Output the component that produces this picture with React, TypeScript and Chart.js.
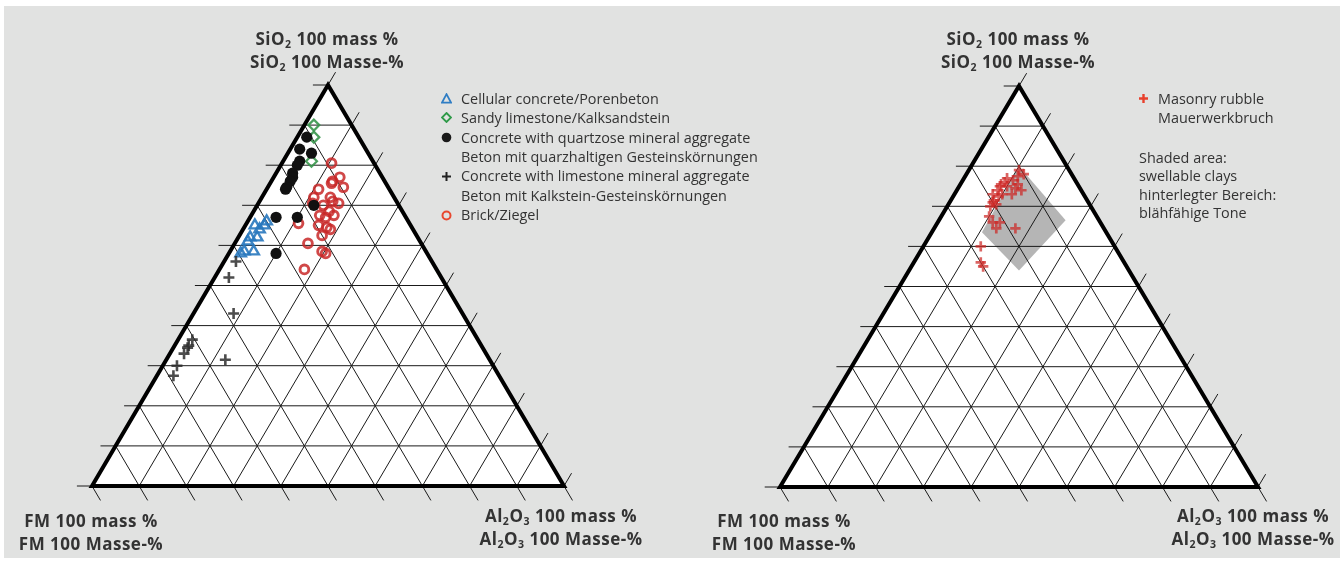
import React, { useEffect, useRef } from "react";
import { Chart, registerables } from "chart.js";

Chart.register(...registerables);

// Compositions in mass %: [SiO2, Al2O3, FM]
type Comp = [number, number, number];

const gridSteps = [0, 10, 20, 30, 40, 50, 60, 70, 80, 90, 100];

const cellularConcrete: Comp[] = [
  [66, 4, 30], [65, 4, 31], [65, 2, 33], [64, 3.5, 32.5], [62, 2.5, 35.5],
  [62, 4, 34], [61, 2.5, 36.5], [58.5, 3, 38.5], [58.5, 5, 36.5], [58, 2.5, 39.5],
];

const sandyLimestone: Comp[] = [
  [90, 2, 8], [87, 3.5, 9.5], [81, 6, 13],
];

const quartzConcrete: Comp[] = [
  [87, 2, 11], [84, 2, 14], [83, 5, 12], [81, 3.5, 15.5], [80, 3.5, 16.5],
  [78, 3.5, 18.5], [77, 4, 19], [76, 4, 20], [74.5, 4, 21.5], [74, 4, 22],
  [67, 5.5, 27.5], [67, 10, 23], [70, 12, 18], [58, 10, 32],
];

const limestoneConcrete: Comp[] = [
  [56, 2.5, 41.5], [52, 3, 45], [43, 8.5, 48.5], [36.5, 3, 60.5], [35, 3, 62],
  [34.5, 3, 62.5], [33, 3, 64], [30, 3, 67], [27.5, 3.5, 69], [31.5, 12.5, 56],
];

const brick: Comp[] = [
  [80.5, 10.5, 9], [76, 13, 11], [77, 14, 9], [74.5, 16, 9.5], [75.5, 13, 11.5],
  [74, 11, 15], [72, 11, 17], [72, 14.5, 13.5], [71, 15.5, 13.5], [70.5, 17, 12.5],
  [70, 14, 16], [70.5, 11.5, 18], [68.5, 16, 15.5], [67.5, 14.5, 18], [67, 16, 17],
  [67.5, 17.5, 15], [65.5, 11, 23.5], [65, 15.5, 19.5], [64.5, 17.5, 18], [64, 18.5, 17.5],
  [62.5, 17.5, 20], [60.5, 15.5, 24], [58.5, 19.5, 22], [58, 20.5, 21.5], [54, 18, 28],
];

const masonryRubble: Comp[] = [
  [79, 10.5, 10.5], [78, 12, 10], [77.5, 11, 11.5], [76.5, 10.5, 13], [77, 9, 14],
  [76, 9, 15], [75.5, 8.5, 16], [75, 8.5, 16.5], [74, 8.5, 17.5], [73, 8, 19],
  [72.5, 9.5, 18], [71.5, 9, 19.5], [71, 9, 20], [70, 9, 21], [70.5, 10, 19.5],
  [75.5, 12, 12.5], [74, 13.5, 12.5], [73, 12, 15], [74.5, 12, 13.5], [73, 10, 17],
  [75, 10, 15], [67.5, 10, 22.5], [66, 11.5, 22.5], [64.5, 13, 22.5], [66, 13, 21],
  [64.5, 17, 18.5], [60, 12, 28], [56, 14, 30], [55, 15, 30],
];

// Outline of the swellable-clay field
const swellableClays: Comp[] = [
  [80, 10, 10], [66.5, 26.5, 7], [54, 23, 23], [63.5, 10.5, 26],
];

// Tick length beyond the triangle, in mass %
const TICK_SIDE = 3.2;
const TICK_BASE = 3.6;

const toXY = ([si, al]: Comp) => ({ x: al + si / 2, y: si });

const segment = (pts: Comp[], color: string, width: number) => ({
  type: "line" as const,
  data: pts.map(toXY),
  borderColor: color,
  borderWidth: width,
  pointRadius: 0,
  fill: false,
  clip: false as const,
  borderCapStyle: "butt" as const,
  borderJoinStyle: "miter" as const,
});

function frameDatasets(shaded?: Comp[]) {
  const sets: any[] = [];
  // white triangle face
  sets.push({
    type: "line",
    data: ([[0, 0, 100], [0, 100, 0], [100, 0, 0], [0, 0, 100]] as Comp[]).map(toXY),
    borderWidth: 0,
    borderColor: "rgba(0,0,0,0)",
    backgroundColor: "#ffffff",
    fill: "shape",
    pointRadius: 0,
    clip: false,
  });
  if (shaded) {
    sets.push({
      type: "line",
      data: [...shaded, shaded[0]].map(toXY),
      borderWidth: 0,
      borderColor: "rgba(0,0,0,0)",
      backgroundColor: "#b5b5b5",
      fill: "shape",
      pointRadius: 0,
      clip: false,
    });
  }
  for (const v of gridSteps) {
    // SiO2 = v, tick past the FM–SiO2 side
    sets.push(segment([[v, -TICK_SIDE, 100 - v + TICK_SIDE], [v, 100 - v, 0]], "#1a1a1a", 1));
    // Al2O3 = v, tick past the SiO2–Al2O3 side
    sets.push(segment([[100 - v + TICK_SIDE, v, -TICK_SIDE], [0, v, 100 - v]], "#1a1a1a", 1));
    // FM = v, tick below the base
    sets.push(segment([[100 - v, 0, v], [-TICK_BASE, 100 - v + TICK_BASE, v]], "#1a1a1a", 1));
  }
  sets.push(segment([[0, 0, 100], [0, 100, 0], [100, 0, 0], [0, 0, 100], [0, 100, 0]], "#000000", 4));
  return sets;
}

const series = (pts: Comp[], style: any) => ({
  type: "scatter" as const,
  data: pts.map(toXY),
  clip: false as const,
  ...style,
});

const leftDatasets = () => {
  const bottomToTop = [
    ...frameDatasets(),
    series(sandyLimestone, { pointStyle: "rectRot", pointRadius: 5.5, pointBorderWidth: 2.2, borderColor: "rgba(55,150,75,0.9)", backgroundColor: "rgba(255,255,255,0)" }),
    series(cellularConcrete, { pointStyle: "triangle", pointRadius: 6, pointBorderWidth: 2.4, borderColor: "rgba(40,120,190,0.9)", backgroundColor: "rgba(255,255,255,0)" }),
    series(brick, { pointStyle: "circle", pointRadius: 4.4, pointBorderWidth: 2.9, borderColor: "rgba(200,40,40,0.85)", backgroundColor: "rgba(255,255,255,0)" }),
    series(limestoneConcrete, { pointStyle: "cross", pointRadius: 5.5, pointBorderWidth: 2.6, borderColor: "rgba(45,45,45,0.85)" }),
    series(quartzConcrete, { pointStyle: "circle", pointRadius: 5.6, pointBorderWidth: 0, borderColor: "#111", backgroundColor: "#111" }),
  ];
  return bottomToTop.reverse();
};

const rightDatasets = () => {
  const bottomToTop = [
    ...frameDatasets(swellableClays),
    series(masonryRubble, { pointStyle: "cross", pointRadius: 5.2, pointBorderWidth: 2.7, borderColor: "rgba(205,40,38,0.72)" }),
  ];
  return bottomToTop.reverse();
};

function TernaryChart({ left, padding, build }: { left: number; padding: any; build: () => any[] }) {
  const ref = useRef<HTMLCanvasElement>(null);
  useEffect(() => {
    const chart = new Chart(ref.current as HTMLCanvasElement, {
      type: "scatter",
      data: { datasets: build() },
      options: {
        responsive: false,
        animation: false,
        events: [],
        layout: { padding },
        scales: {
          x: { type: "linear", min: 0, max: 100, display: false },
          y: { type: "linear", min: 0, max: 100, display: false },
        },
        plugins: { legend: { display: false }, tooltip: { enabled: false } },
      },
    } as any);
    return () => chart.destroy();
  }, []);
  return (
    <canvas
      ref={ref}
      width={672}
      height={562}
      style={{ position: "absolute", left, top: 0, width: 672, height: 562 }}
    />
  );
}

const subStyle: React.CSSProperties = { fontSize: "0.62em", position: "relative", top: "0.32em", lineHeight: 0 };

const SiO2 = () => (<>SiO<span style={subStyle}>2</span></>);
const Al2O3 = () => (<>Al<span style={subStyle}>2</span>O<span style={subStyle}>3</span></>);

function AxisLabel({ cx, top, children }: { cx: number; top: number; children: React.ReactNode }) {
  return (
    <div
      style={{
        position: "absolute",
        left: cx,
        top,
        transform: "translateX(-50%)",
        whiteSpace: "nowrap",
        textAlign: "center",
        fontFamily: '"Open Sans", sans-serif',
        fontWeight: 700,
        fontSize: 17,
        letterSpacing: "0.5px",
        lineHeight: "23px",
        color: "#333",
      }}
    >
      {children}
    </div>
  );
}

function Marker({ kind }: { kind: string }) {
  const common = { fill: "none", strokeWidth: 1.8 };
  let shape: React.ReactNode = null;
  if (kind === "triangle") shape = <polygon points="5.5,1.2 10,9.6 1,9.6" stroke="#2f7dc4" {...common} />;
  if (kind === "diamond") shape = <polygon points="5.5,1 10,5.5 5.5,10 1,5.5" stroke="#2e9a48" {...common} />;
  if (kind === "dot") shape = <circle cx="5.5" cy="5.5" r="4.8" fill="#1a1a1a" />;
  if (kind === "plus") shape = <path d="M5.5 1 V10 M1 5.5 H10" stroke="#222" strokeWidth={2} />;
  if (kind === "ring") shape = <circle cx="5.5" cy="5.5" r="4" stroke="#e8482f" {...common} strokeWidth={2} />;
  if (kind === "redplus") shape = <path d="M5.5 1 V10 M1 5.5 H10" stroke="#e8402c" strokeWidth={2.4} />;
  return (
    <svg width={11} height={11} style={{ position: "absolute", left: 0, top: 4.2 }}>
      {shape}
    </svg>
  );
}

const leftLegend = [
  { marker: "triangle", lines: ["Cellular concrete/Porenbeton"] },
  { marker: "diamond", lines: ["Sandy limestone/Kalksandstein"] },
  { marker: "dot", lines: ["Concrete with quartzose mineral aggregate", "Beton mit quarzhaltigen Gesteinskörnungen"] },
  { marker: "plus", lines: ["Concrete with limestone mineral aggregate", "Beton mit Kalkstein-Gesteinskörnungen"] },
  { marker: "ring", lines: ["Brick/Ziegel"] },
];

const rightLegend = ["Masonry rubble", "Mauerwerkbruch"];
const shadedNote = ["Shaded area:", "swellable clays", "hinterlegter Bereich:", "blähfähige Tone"];

const legendFont: React.CSSProperties = {
  fontFamily: '"Open Sans", sans-serif',
  fontSize: 14.4,
  color: "#333",
  whiteSpace: "nowrap",
};

export default function App() {
  return (
    <div style={{ position: "absolute", left: 0, top: 0, width: 1344, height: 562, background: "#ffffff", overflow: "hidden" }}>
      <div style={{ position: "absolute", left: 4, top: 6, width: 1336, height: 552, background: "#e1e2e1" }} />
      <TernaryChart left={0} padding={{ left: 92, right: 108, top: 85, bottom: 76 }} build={leftDatasets} />
      <TernaryChart left={672} padding={{ left: 108, right: 86, top: 86, bottom: 75 }} build={rightDatasets} />

      <AxisLabel cx={327} top={26.5}>
        <div><SiO2 /> 100 mass %</div>
        <div><SiO2 /> 100 Masse-%</div>
      </AxisLabel>
      <AxisLabel cx={91} top={508.5}>
        <div>FM 100 mass %</div>
        <div>FM 100 Masse-%</div>
      </AxisLabel>
      <AxisLabel cx={561} top={503.5}>
        <div><Al2O3 /> 100 mass %</div>
        <div><Al2O3 /> 100 Masse-%</div>
      </AxisLabel>

      <AxisLabel cx={1018} top={27}>
        <div><SiO2 /> 100 mass %</div>
        <div><SiO2 /> 100 Masse-%</div>
      </AxisLabel>
      <AxisLabel cx={784} top={509}>
        <div>FM 100 mass %</div>
        <div>FM 100 Masse-%</div>
      </AxisLabel>
      <AxisLabel cx={1253} top={503.5}>
        <div><Al2O3 /> 100 mass %</div>
        <div><Al2O3 /> 100 Masse-%</div>
      </AxisLabel>

      <div style={{ position: "absolute", left: 441, top: 88.6, lineHeight: "19.45px", ...legendFont }}>
        {leftLegend.map((item) => (
          <div key={item.marker} style={{ position: "relative", paddingLeft: 20 }}>
            <Marker kind={item.marker} />
            {item.lines.map((t) => (<div key={t}>{t}</div>))}
          </div>
        ))}
      </div>

      <div style={{ position: "absolute", left: 1137.5, top: 88.8, lineHeight: "19px", ...legendFont }}>
        <div style={{ position: "relative", paddingLeft: 20.5 }}>
          <Marker kind="redplus" />
          {rightLegend.map((t) => (<div key={t}>{t}</div>))}
        </div>
      </div>
      <div style={{ position: "absolute", left: 1139, top: 149, lineHeight: "18.4px", ...legendFont }}>
        {shadedNote.map((t) => (<div key={t}>{t}</div>))}
      </div>
    </div>
  );
}
